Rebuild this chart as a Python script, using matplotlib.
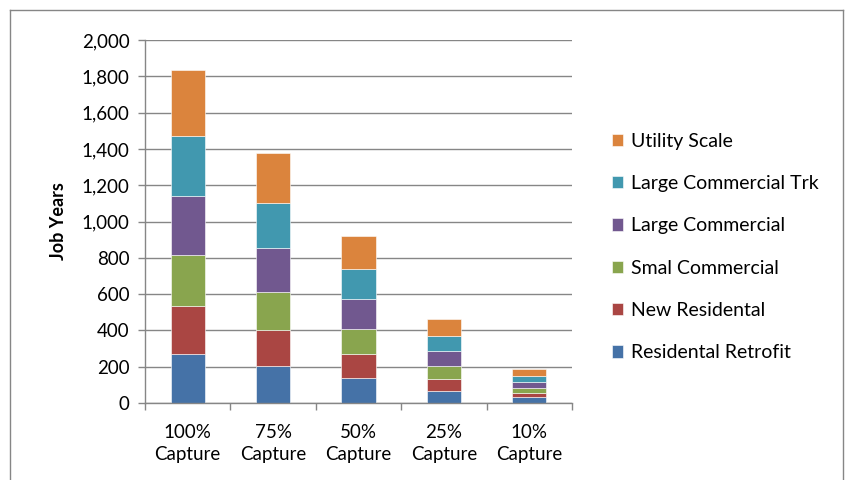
import matplotlib
matplotlib.use("Agg")
import matplotlib.pyplot as plt
import numpy as np
from matplotlib.lines import Line2D

plt.rcParams['font.family'] = ['Lato', 'DejaVu Sans']

categories = ["100%\nCapture", "75%\nCapture", "50%\nCapture", "25%\nCapture", "10%\nCapture"]
series_names = ["Residental Retrofit", "New Residental", "Smal Commercial",
                "Large Commercial", "Large Commercial Trk", "Utility Scale"]
residental_retrofit = [268, 202, 136, 68, 31]
new_residental = [268, 202, 132, 66, 26]
smal_commercial = [279, 209, 140, 72, 27]
large_commercial = [327, 243, 163, 81, 30]
large_commercial_trk = [329, 248, 166, 84, 36]
utility_scale = [366, 273, 183, 92, 36]
colors = ["#4572A7", "#AA4643", "#89A54E", "#71588F", "#4198AF", "#DB843D"]

series = [residental_retrofit, new_residental, smal_commercial,
          large_commercial, large_commercial_trk, utility_scale]

fig = plt.figure(figsize=(8.48, 4.8), dpi=100)
ax = fig.add_axes([145/848, 1-403/480, (572-145)/848, (403-40)/480])

x = np.arange(len(categories))
bottom = np.zeros(len(categories))
bars = []
for vals, name, col in zip(series, series_names, colors):
    b = ax.bar(x, vals, width=0.4, bottom=bottom, color=col, label=name,
               edgecolor="white", linewidth=0.4)
    bars.append(b)
    bottom += np.array(vals)

ax.set_xlim(-0.5, len(categories)-0.5)
ax.set_ylim(0, 2000)
ax.set_yticks(np.arange(0, 2001, 200))
ax.set_yticklabels([f"{v:,}" for v in range(0, 2001, 200)], fontsize=13.5)
ax.set_xticks(x)
ax.set_xticklabels(categories, fontsize=13.5, linespacing=1.4)
ax.tick_params(axis='x', length=0, pad=15)
ax.set_xticks(np.arange(-0.5, len(categories), 1), minor=True)
ax.tick_params(axis='x', which='minor', length=5, color="#868686", width=1)
ax.tick_params(axis='y', length=5, color="#868686", width=1, pad=6)
ax.grid(axis='y', color="#868686", linewidth=1)
ax.set_axisbelow(True)
for s in ["top", "right"]:
    ax.spines[s].set_visible(False)
for s in ["left", "bottom"]:
    ax.spines[s].set_color("#868686")
    ax.spines[s].set_linewidth(1)
ax.set_ylabel("Job Years", fontsize=13, fontweight="bold", labelpad=11)

handles = [bars[i] for i in range(len(bars)-1, -1, -1)]
labels = [series_names[i] for i in range(len(series_names)-1, -1, -1)]
fig.legend(handles, labels, loc="center left", bbox_to_anchor=(594/848, 1-247/480),
           frameon=False, fontsize=14, handlelength=0.6, handleheight=0.6,
           handletextpad=0.4, labelspacing=1.3)

# outer chart border
fig.add_artist(Line2D([10/848, 10/848], [0, 1-10/480], transform=fig.transFigure, color="#868686", lw=1))
fig.add_artist(Line2D([10/848, 843/848], [1-10/480, 1-10/480], transform=fig.transFigure, color="#868686", lw=1))
fig.add_artist(Line2D([843/848, 843/848], [0, 1-10/480], transform=fig.transFigure, color="#868686", lw=1))

fig.savefig("out.png", dpi=100)
